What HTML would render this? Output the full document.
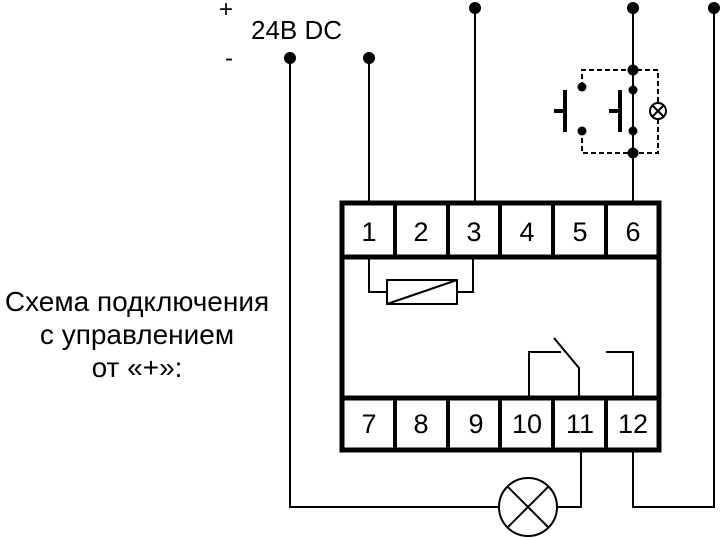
<!DOCTYPE html>
<html><head><meta charset="utf-8"><style>html,body{margin:0;padding:0;background:#fff}svg{display:block}</style></head><body>
<svg width="721" height="538" viewBox="0 0 721 538" xmlns="http://www.w3.org/2000/svg" font-family="Liberation Sans, sans-serif">
<g fill="none" stroke="#000" stroke-width="2">
<polyline points="290,58 290,507 499,507"/>
<polyline points="557,507 581,507 581,450"/>
<line x1="369" y1="58" x2="369" y2="202"/>
<line x1="475" y1="8" x2="475" y2="202"/>
<line x1="633" y1="8" x2="633" y2="202"/>
<polyline points="633,450 633,507 714,507 714,8"/>
<circle cx="528" cy="507" r="29"/>
<line x1="507" y1="486" x2="549" y2="528"/>
<line x1="549" y1="486" x2="507" y2="528"/>
<polyline points="369,257 369,292 387,292"/>
<polyline points="457,292 473,292 473,257"/>
<rect x="387" y="280" width="70" height="24"/>
<line x1="387" y1="304" x2="457" y2="280"/>
<polyline points="529,397 529,352 561,352"/>
<polyline points="554,338 579,368 579,397"/>
<polyline points="606,352 633,352 633,397"/>
<path d="M582,87 L582,70 L658,70 L658,103 M658,119 L658,153 L582,153 L582,131" stroke-dasharray="5,3"/>
<circle cx="658" cy="111" r="8"/>
<line x1="652" y1="105" x2="664" y2="117"/>
<line x1="664" y1="105" x2="652" y2="117"/>
</g>
<g stroke="#000" stroke-width="4">
<line x1="565" y1="90" x2="565" y2="132"/><line x1="554" y1="111" x2="565" y2="111"/>
<line x1="620" y1="90" x2="620" y2="132"/><line x1="609" y1="111" x2="620" y2="111"/>
</g>
<g fill="none" stroke="#000" stroke-width="5">
<rect x="342" y="203" width="317" height="247"/>
<line x1="342" y1="257" x2="659" y2="257"/>
<line x1="342" y1="398" x2="659" y2="398"/>
</g>
<g stroke="#000" stroke-width="4">
<line x1="395" y1="203" x2="395" y2="257"/><line x1="448" y1="203" x2="448" y2="257"/><line x1="500" y1="203" x2="500" y2="257"/><line x1="553" y1="203" x2="553" y2="257"/><line x1="606" y1="203" x2="606" y2="257"/>
<line x1="395" y1="398" x2="395" y2="450"/><line x1="448" y1="398" x2="448" y2="450"/><line x1="500" y1="398" x2="500" y2="450"/><line x1="553" y1="398" x2="553" y2="450"/><line x1="606" y1="398" x2="606" y2="450"/>
</g>
<g fill="#000">
<circle cx="290" cy="58" r="6"/><circle cx="369" cy="58" r="6"/><circle cx="475" cy="8" r="6"/><circle cx="633" cy="8" r="6"/><circle cx="714" cy="8" r="6"/>
<circle cx="633" cy="70" r="5.5"/><circle cx="633" cy="153" r="5.5"/><circle cx="633" cy="90" r="4.5"/><circle cx="633" cy="131" r="4.5"/>
<circle cx="582" cy="87" r="4.5"/><circle cx="582" cy="131" r="4.5"/>
</g>
<g font-size="27" text-anchor="middle" fill="#000">
<text x="369" y="241">1</text><text x="421" y="241">2</text><text x="474" y="241">3</text><text x="527" y="241">4</text><text x="580" y="241">5</text><text x="633" y="241">6</text>
<text x="369" y="433">7</text><text x="421" y="433">8</text><text x="476" y="433">9</text><text x="527" y="433">10</text><text x="580" y="433">11</text><text x="633" y="433">12</text>
</g>
<g fill="#000">
<text x="219" y="17" font-size="24">+</text>
<text x="225" y="66" font-size="24">-</text>
<text x="251" y="39" font-size="26">24B DC</text>
</g>
<g font-size="28" text-anchor="middle" fill="#000">
<text x="137" y="311">Схема подключения</text>
<text x="137" y="344">с управлением</text>
<text x="137" y="377">от  «+»:</text>
</g>
</svg>
</body></html>
